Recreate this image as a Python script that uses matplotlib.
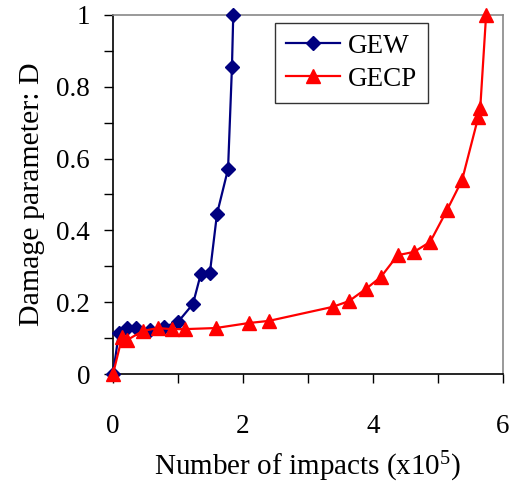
import matplotlib
matplotlib.use("Agg")
import matplotlib.pyplot as plt
from matplotlib.ticker import MultipleLocator, FuncFormatter

plt.rcParams['font.family'] = ['Liberation Serif', 'DejaVu Serif']
plt.rcParams['mathtext.fontset'] = 'custom'
plt.rcParams['mathtext.rm'] = 'Liberation Serif'
plt.rcParams['mathtext.it'] = 'Liberation Serif:italic'

# Data (x in units of 10^5 impacts)
gew_x = [0.0, 0.09, 0.215, 0.35, 0.57, 0.78, 1.0, 1.23, 1.35, 1.49, 1.60, 1.77, 1.83, 1.85]
gew_y = [0.0, 0.114, 0.128, 0.128, 0.123, 0.131, 0.145, 0.195, 0.278, 0.281, 0.446, 0.571, 0.855, 1.0]

gecp_x = [0.0, 0.14, 0.22, 0.46, 0.69, 0.90, 1.10, 1.58, 2.09, 2.40, 3.38, 3.63, 3.89, 4.12,
          4.38, 4.63, 4.88, 5.14, 5.37, 5.62, 5.65, 5.74]
gecp_y = [0.0, 0.103, 0.095, 0.120, 0.128, 0.125, 0.125, 0.128, 0.142, 0.148, 0.187, 0.203,
          0.237, 0.270, 0.331, 0.340, 0.368, 0.457, 0.540, 0.716, 0.741, 1.0]

fig = plt.figure(figsize=(5.15, 4.84), dpi=100)
ax = fig.add_axes([113/515, 1-374/484, (503-113)/515, (374-15)/484])

ax.plot(gew_x, gew_y, color='#000080', marker='D', markersize=7, linewidth=1.6,
        label='GEW', clip_on=False, zorder=3)
ax.plot(gecp_x, gecp_y, color='#FF0000', marker='^', markersize=10.5, linewidth=1.6,
        label='GECP', clip_on=False, zorder=4)

ax.set_xlim(0, 6)
ax.set_ylim(0, 1)
ax.xaxis.set_major_locator(MultipleLocator(2))
ax.xaxis.set_minor_locator(MultipleLocator(1))
ax.yaxis.set_major_locator(MultipleLocator(0.2))
ax.yaxis.set_minor_locator(MultipleLocator(0.1))

def yfmt(v, pos):
    s = f"{v:.1f}"
    if s.endswith('.0'):
        s = s[:-2]
    return s
ax.yaxis.set_major_formatter(FuncFormatter(yfmt))

for s in ['top', 'right']:
    ax.spines[s].set_color('#888888')
    ax.spines[s].set_linewidth(1.2)
for s in ['left', 'bottom']:
    ax.spines[s].set_color('black')
    ax.spines[s].set_linewidth(1.2)

ax.tick_params(axis='both', which='both', direction='out', length=6.5, width=1.0,
               top=False, right=False)
ax.tick_params(axis='x', which='major', pad=22, labelsize=19.5)
ax.tick_params(axis='y', which='major', pad=10, labelsize=19.5)

ax.set_xlabel('Number of impacts (x10$^{5}$)', fontsize=21, labelpad=8)
ax.set_ylabel('Damage parameter: D', fontsize=21.5, labelpad=8)

leg = ax.legend(loc='upper left', bbox_to_anchor=(275/515, 1-23/484),
                bbox_transform=fig.transFigure, borderaxespad=0, fontsize=19.5,
                frameon=True, fancybox=False, handlelength=2.0, handletextpad=0.3,
                borderpad=0.4, labelspacing=0.3)
leg.get_frame().set_edgecolor('black')
leg.get_frame().set_linewidth(1.0)

fig.savefig('out.png', dpi=100)
